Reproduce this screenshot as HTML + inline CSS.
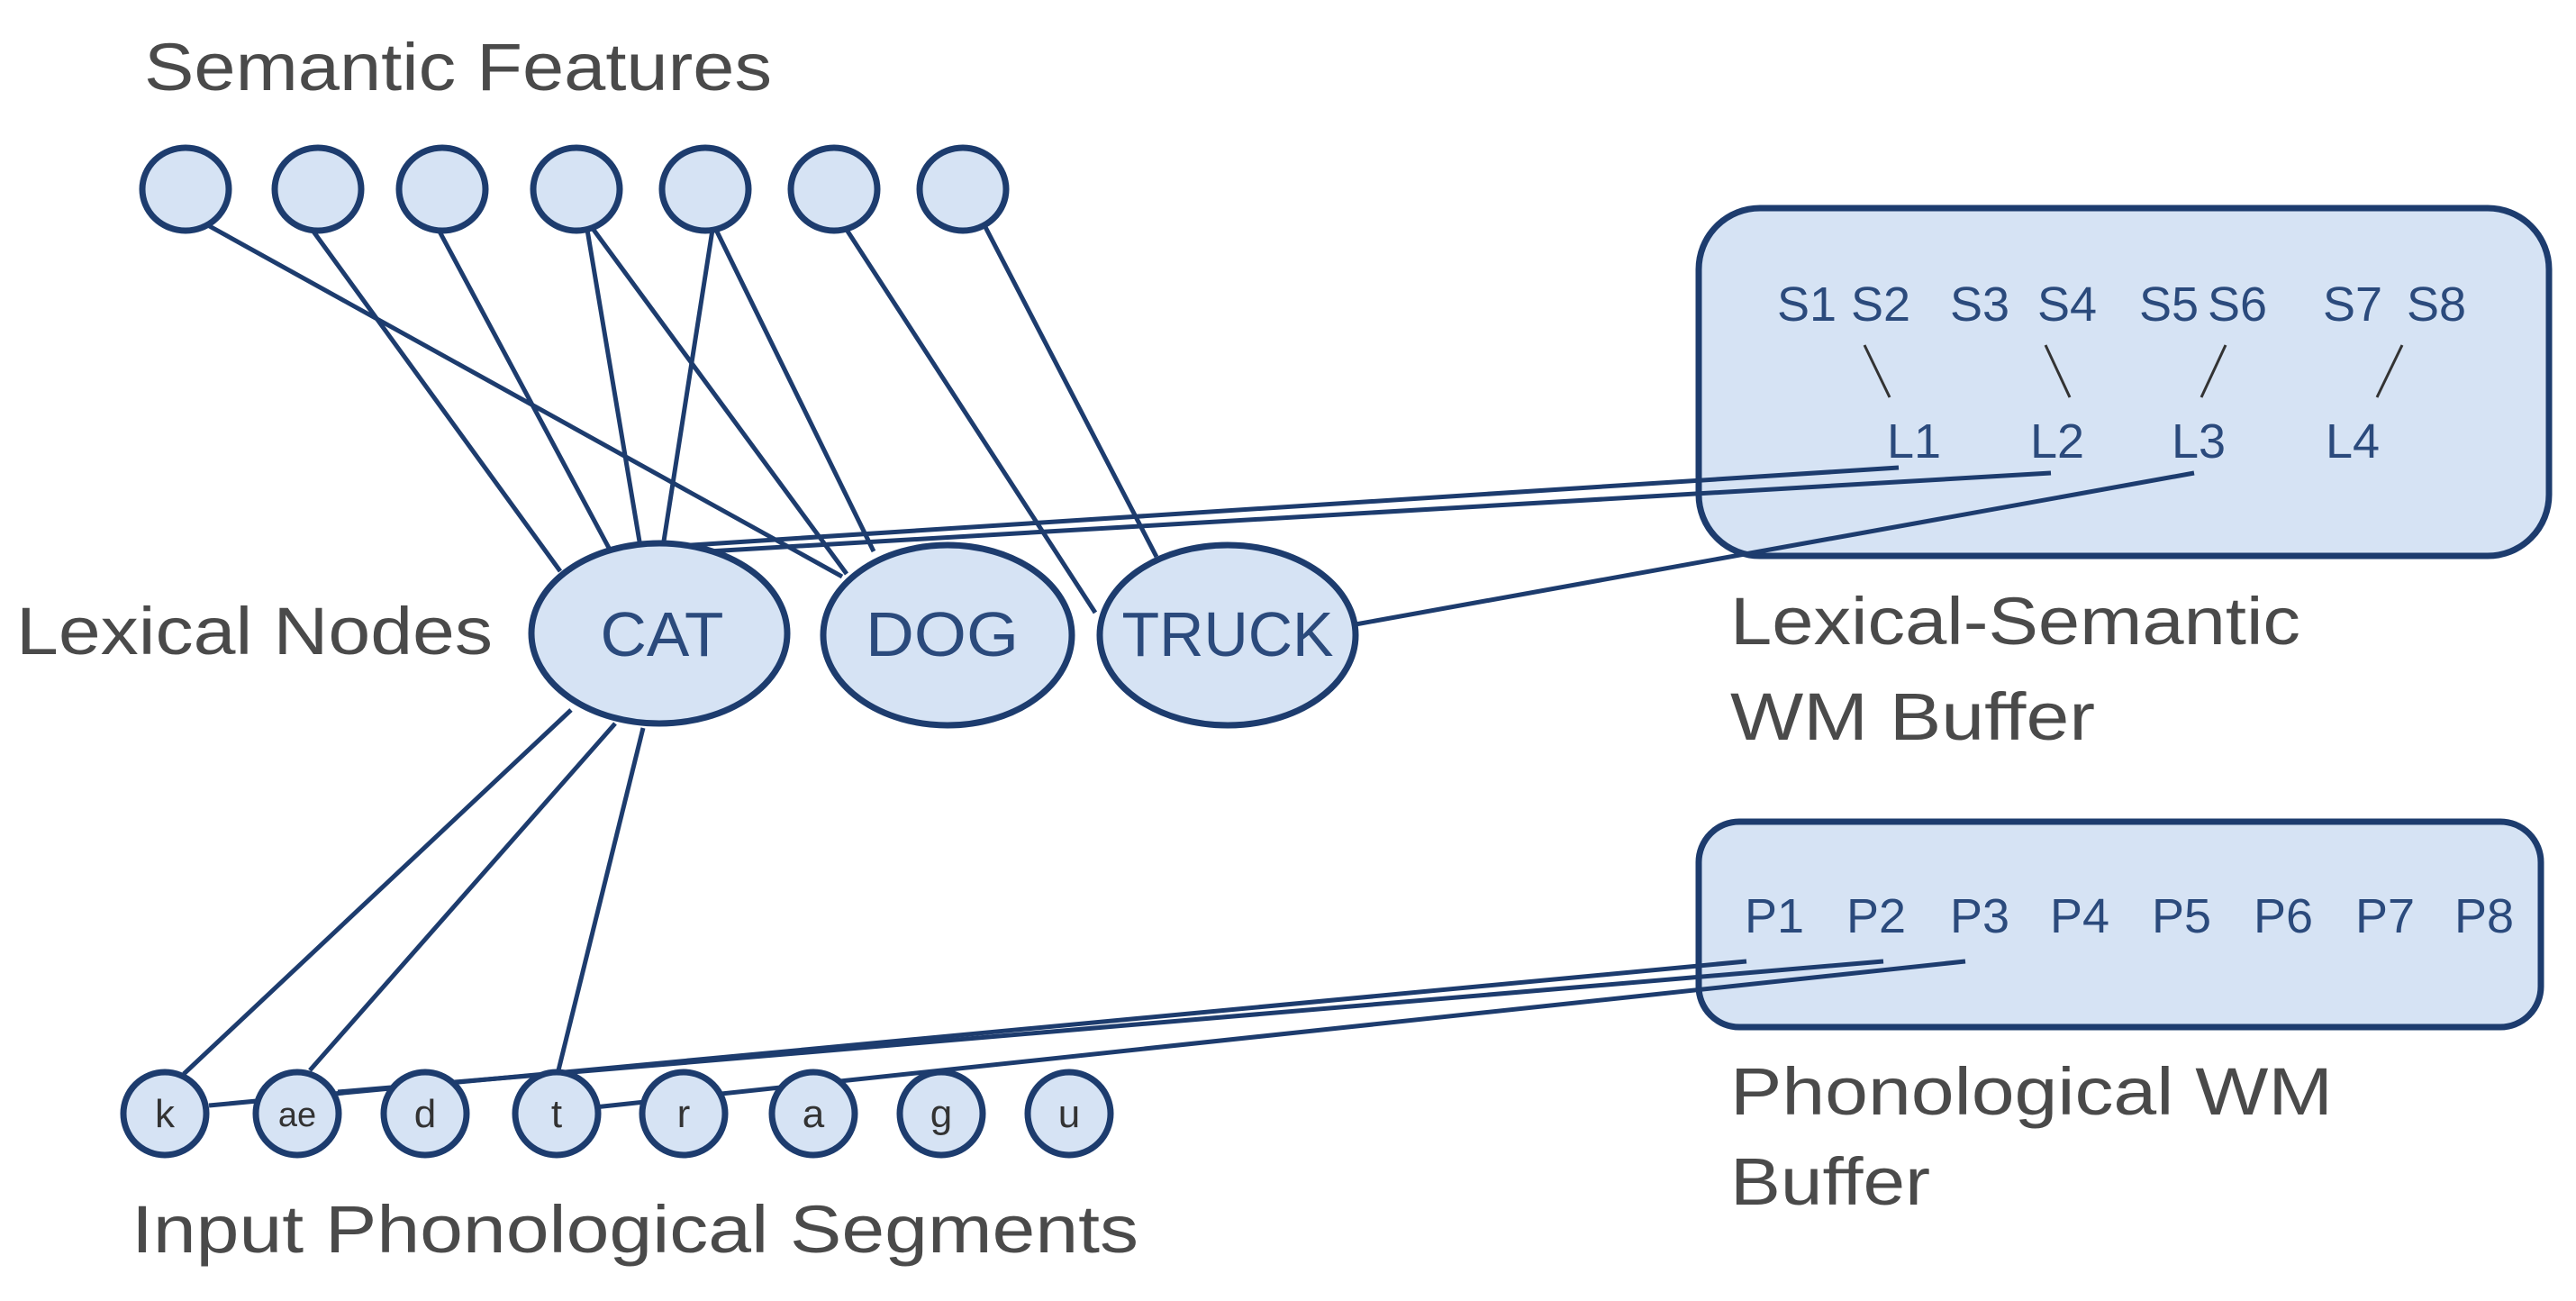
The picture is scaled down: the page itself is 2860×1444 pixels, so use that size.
<!DOCTYPE html>
<html><head><meta charset="utf-8"><style>
html,body{margin:0;padding:0;background:#fff;}
svg{display:block;}
text{font-family:"Liberation Sans",sans-serif;}
.lab{fill:#4a4a4a;font-size:74px;}
.nd{fill:#2b4a7c;}
</style></head><body>
<svg width="2860" height="1444" viewBox="0 0 2860 1444" xmlns="http://www.w3.org/2000/svg">
<g fill="#d6e3f4" stroke="#1d3c6e" stroke-width="7">
<rect x="1886" y="231" width="944" height="386" rx="68"/>
<rect x="1886" y="912" width="935" height="228" rx="45"/>
</g>
<g stroke="#1d3c6e" stroke-width="5" fill="none">
<line x1="229" y1="249" x2="935" y2="640"/>
<line x1="348" y1="257" x2="622" y2="634"/>
<line x1="488" y1="257" x2="677" y2="610"/>
<line x1="652" y1="255" x2="711" y2="607"/>
<line x1="659" y1="255" x2="940" y2="637"/>
<line x1="791" y1="255" x2="736" y2="607"/>
<line x1="796" y1="257" x2="970" y2="612"/>
<line x1="940" y1="255" x2="1216" y2="680"/>
<line x1="1094" y1="252" x2="1284" y2="618"/>
<line x1="736" y1="607" x2="2108" y2="519"/>
<line x1="786" y1="612" x2="2277" y2="525"/>
<line x1="1505" y1="693" x2="2436" y2="525"/>
<line x1="634" y1="788" x2="204" y2="1192"/>
<line x1="683" y1="803" x2="344" y2="1188"/>
<line x1="714" y1="808" x2="620" y2="1188"/>
<line x1="232" y1="1227" x2="1939" y2="1067"/>
<line x1="375" y1="1212" x2="2091" y2="1067"/>
<line x1="660" y1="1229" x2="2182" y2="1067"/>
</g>
<g stroke="#333" stroke-width="3">
<line x1="2070" y1="383" x2="2098" y2="441"/>
<line x1="2271" y1="383" x2="2298" y2="441"/>
<line x1="2471" y1="383" x2="2444" y2="441"/>
<line x1="2667" y1="383" x2="2639" y2="441"/>
</g>
<g fill="#d6e3f4" stroke="#1d3c6e" stroke-width="7">
<ellipse cx="206" cy="210" rx="48" ry="46"/>
<ellipse cx="353" cy="210" rx="48" ry="46"/>
<ellipse cx="491" cy="210" rx="48" ry="46"/>
<ellipse cx="640" cy="210" rx="48" ry="46"/>
<ellipse cx="783" cy="210" rx="48" ry="46"/>
<ellipse cx="926" cy="210" rx="48" ry="46"/>
<ellipse cx="1069" cy="210" rx="48" ry="46"/>
<ellipse cx="732" cy="703" rx="142" ry="100"/>
<ellipse cx="1052" cy="705" rx="138" ry="100"/>
<ellipse cx="1363" cy="705" rx="142" ry="100"/>
<circle cx="183" cy="1236" r="46"/>
<circle cx="330" cy="1236" r="46"/>
<circle cx="472" cy="1236" r="46"/>
<circle cx="618" cy="1236" r="46"/>
<circle cx="759" cy="1236" r="46"/>
<circle cx="903" cy="1236" r="46"/>
<circle cx="1045" cy="1236" r="46"/>
<circle cx="1187" cy="1236" r="46"/>
</g>
<g class="nd" font-size="70" text-anchor="middle">
<text x="735" y="728" textLength="137" lengthAdjust="spacingAndGlyphs">CAT</text>
<text x="1046" y="728" textLength="170" lengthAdjust="spacingAndGlyphs">DOG</text>
<text x="1363" y="728" textLength="235" lengthAdjust="spacingAndGlyphs">TRUCK</text>
</g>
<g fill="#333" font-size="44" text-anchor="middle">
<text x="183" y="1251">k</text><text x="330" y="1250" font-size="38">ae</text><text x="472" y="1251">d</text><text x="618" y="1251">t</text>
<text x="759" y="1251">r</text><text x="903" y="1251">a</text><text x="1045" y="1251">g</text><text x="1187" y="1251">u</text>
</g>
<g class="nd" font-size="54" text-anchor="middle">
<text x="2006" y="356">S1</text><text x="2088" y="356">S2</text><text x="2198" y="356">S3</text><text x="2295" y="356">S4</text>
<text x="2408" y="356">S5</text><text x="2484" y="356">S6</text><text x="2612" y="356">S7</text><text x="2705" y="356">S8</text>
<text x="2125" y="508">L1</text><text x="2284" y="508">L2</text><text x="2441" y="508">L3</text><text x="2612" y="508">L4</text>
<text x="1970" y="1035">P1</text><text x="2083" y="1035">P2</text><text x="2198" y="1035">P3</text><text x="2309" y="1035">P4</text>
<text x="2422" y="1035">P5</text><text x="2535" y="1035">P6</text><text x="2648" y="1035">P7</text><text x="2758" y="1035">P8</text>
</g>
<g class="lab">
<text x="160" y="100" textLength="697" lengthAdjust="spacingAndGlyphs">Semantic Features</text>
<text x="18" y="726" textLength="529" lengthAdjust="spacingAndGlyphs">Lexical Nodes</text>
<text x="1921" y="715" textLength="633" lengthAdjust="spacingAndGlyphs">Lexical-Semantic</text>
<text x="1921" y="821" textLength="405" lengthAdjust="spacingAndGlyphs">WM Buffer</text>
<text x="1921" y="1237" textLength="669" lengthAdjust="spacingAndGlyphs">Phonological WM</text>
<text x="1921" y="1337" textLength="222" lengthAdjust="spacingAndGlyphs">Buffer</text>
<text x="146" y="1390" textLength="1118" lengthAdjust="spacingAndGlyphs">Input Phonological Segments</text>
</g>
</svg>
</body></html>
